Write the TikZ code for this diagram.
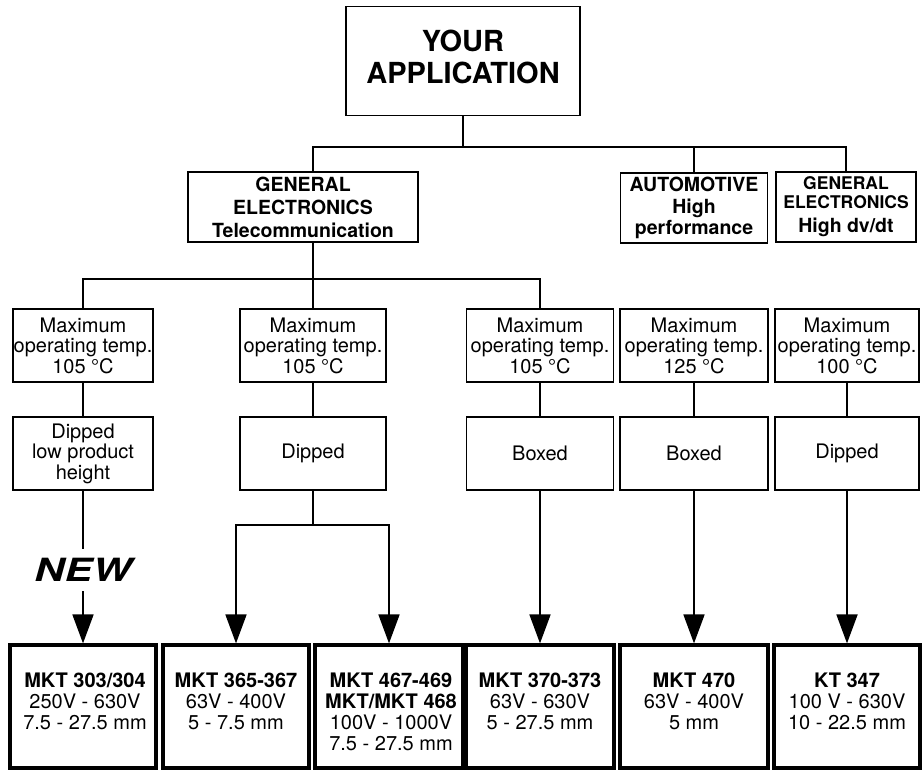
\documentclass[tikz,border=0pt]{standalone}
\usepackage{fontspec}
\setmainfont{TeX Gyre Heros}
\usetikzlibrary{arrows.meta}
\begin{document}
\begin{tikzpicture}[x=1pt,y=-1pt,
  box/.style={draw, line width=1.8pt, minimum height=73pt, inner sep=0pt, align=center,
    font=\fontsize{20}{20.5}\selectfont},
  head/.style={box, minimum height=70pt, font=\bfseries\fontsize{19.5}{22}\selectfont},
  prod/.style={draw, line width=3.2pt, minimum height=123pt, inner sep=0pt},
  prodtext/.style={anchor=north, inner sep=0pt, align=center,
    font=\fontsize{20}{20.8}\selectfont},
  conn/.style={line width=1.8pt},
  arr/.style={-{Triangle[length=29pt,width=21pt]}},
]
\useasboundingbox (0,0) rectangle (922,771);

% top level
\node[box, minimum width=234pt, minimum height=109pt,
      font=\bfseries\fontsize{29}{32}\selectfont] (app) at (463,61)
  {\raisebox{5pt}{\begin{tabular}{@{}c@{}}YOUR\\APPLICATION\end{tabular}}};

% application fields
\node[head, minimum width=230pt, font=\bfseries\fontsize{19.5}{23}\selectfont] (ge) at (303,207)
  {GENERAL\\ELECTRONICS\\Telecommunication};
\node[head, minimum width=147pt, font=\bfseries\fontsize{19.5}{21.5}\selectfont] (auto) at (694,208)
  {AUTOMOTIVE\\High\\performance};
\node[head, minimum width=140pt, font=\bfseries\fontsize{17.5}{19}\selectfont] (hdv) at (846,207)
  {GENERAL\\ELECTRONICS\\[5pt]{\fontsize{19.5}{20}\selectfont High dv/dt}};

% temperature row
\node[box, minimum width=140pt] (t1) at (83,345.5) {Maximum\\operating temp.\\105 °C};
\node[box, minimum width=146pt] (t2) at (313,345.5) {Maximum\\operating temp.\\105 °C};
\node[box, minimum width=147pt] (t3) at (540,345.5) {Maximum\\operating temp.\\105 °C};
\node[box, minimum width=148pt] (t4) at (694,345.5) {Maximum\\operating temp.\\125 °C};
\node[box, minimum width=144pt] (t5) at (847,345.5) {Maximum\\operating temp.\\100 °C};

% construction row
\node[box, minimum width=140pt] (d1) at (83,453.5) {Dipped\\low product\\height};
\node[box, minimum width=146pt] (d2) at (313,453.5) {Dipped};
\node[box, minimum width=147pt] (d3) at (540,453.5) {Boxed};
\node[box, minimum width=148pt] (d4) at (694,453.5) {Boxed};
\node[box, minimum width=144pt] (d5) at (847,453.5) {Dipped};

% "NEW" marker
\node[inner xsep=0pt, inner ysep=9.5pt, font=\bfseries\itshape\fontsize{32}{32}\selectfont]
  (new) at (83,570) {\scalebox{1.3}[1]{NEW}};

% product boxes
\node[prod, minimum width=146pt] (p1) at (83,706.5) {};
\node[prod, minimum width=146pt] (p2) at (236,706.5) {};
\node[prod, minimum width=148pt] (p3) at (389,706.5) {};
\node[prod, minimum width=148pt] (p4) at (540,706.5) {};
\node[prod, minimum width=148pt] (p5) at (694,706.5) {};
\node[prod, minimum width=146pt] (p6) at (847,706.5) {};

\node[prodtext] (p1t) at (85,673) {\textbf{MKT 303/304}\\250V - 630V\\7.5 - 27.5 mm};
\node[prodtext] (p2t) at (236,673) {\textbf{MKT 365-367}\\63V - 400V\\5 - 7.5 mm};
\node[prodtext] (p3t) at (391,673) {\textbf{MKT 467-469}\\\textbf{MKT/MKT 468}\\100V - 1000V\\7.5 - 27.5 mm};
\node[prodtext] (p4t) at (540,673) {\textbf{MKT 370-373}\\63V - 630V\\5 - 27.5 mm};
\node[prodtext] (p5t) at (694,673) {\textbf{MKT 470}\\63V - 400V\\5 mm};
\node[prodtext] (p6t) at (847,673) {\textbf{KT 347}\\100 V - 630V\\10 - 22.5 mm};

% bus junctions
\coordinate (j1) at (463,147);
\coordinate (j2) at (313,279);
\coordinate (j3) at (313,525);

% connectors
\draw[conn] (app.south) -- (app.south |- j1);
\draw[conn] ([xshift=10pt]ge.north) |- (j1) -| (hdv.north);
\draw[conn] (auto.north) -- (auto.north |- j1);

\draw[conn] ([xshift=10pt]ge.south) -- ([xshift=10pt]ge.south |- j2);
\draw[conn] (t1.north) |- (j2) -| (t3.north);
\draw[conn] (t2.north) -- (t2.north |- j2);

\draw[conn] (t1.south) -- (d1.north);
\draw[conn] (t2.south) -- (d2.north);
\draw[conn] (t3.south) -- (d3.north);
\draw[conn] (t4.south) -- (d4.north);
\draw[conn] (t5.south) -- (d5.north);

\draw[conn] (d1.south) -- (new.north);
\draw[conn,arr] (new.south) -- (p1.north);
\draw[conn] (d2.south) -- (j3);
\draw[conn,arr] (j3) -| (p2.north);
\draw[conn,arr] (j3) -| (p3.north);
\draw[conn,arr] (d3.south) -- (p4.north);
\draw[conn,arr] (d4.south) -- (p5.north);
\draw[conn,arr] (d5.south) -- (p6.north);
\end{tikzpicture}
\end{document}
